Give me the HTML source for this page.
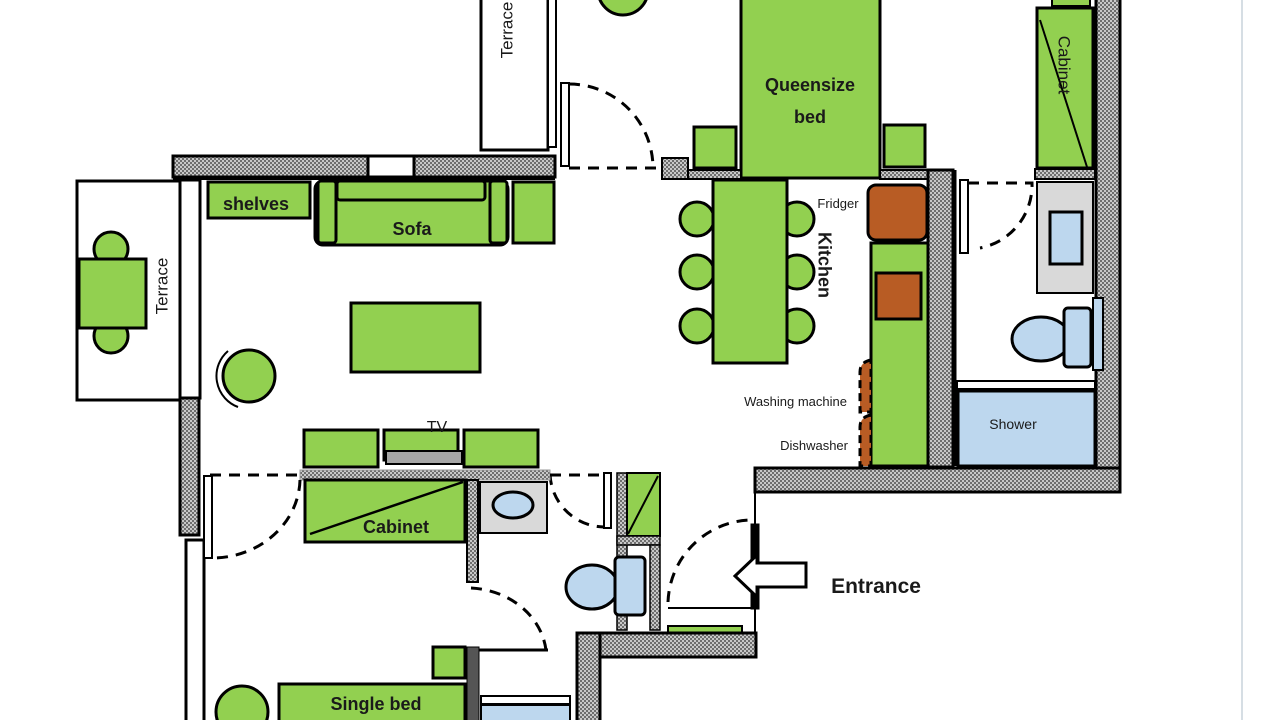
<!DOCTYPE html>
<html><head><meta charset="utf-8"><style>
html,body{margin:0;padding:0;background:#fff;}
svg{display:block}
text{font-family:"Liberation Sans",sans-serif;fill:#1a1a1a}
.b{font-weight:bold}
</style></head><body>
<svg width="1280" height="720" viewBox="0 0 1280 720" xmlns="http://www.w3.org/2000/svg">
<defs>
<pattern id="h" width="4" height="4" patternUnits="userSpaceOnUse">
<rect width="4" height="4" fill="#c8c8c8"/><rect width="2" height="2" fill="#6e6e6e"/><rect x="2" y="2" width="2" height="2" fill="#6e6e6e"/>
</pattern>
</defs>
<g stroke="#000" stroke-width="3" fill="none">
<line x1="1242" y1="0" x2="1242" y2="720" stroke="#c9d3dc" stroke-width="1.5"/>

<rect x="481" y="-5" width="67" height="155" fill="#fff"/>
<rect x="548" y="-5" width="8" height="152" fill="#fff" stroke-width="2"/>
<circle cx="623" cy="-10" r="25" fill="#92d050"/>

<rect x="173" y="156" width="195" height="21" fill="url(#h)"/>
<rect x="368" y="156" width="46" height="21" fill="#fff"/>
<rect x="414" y="156" width="141" height="21" fill="url(#h)"/>
<line x1="173" y1="178" x2="555" y2="178" stroke-width="4"/>

<rect x="180" y="180" width="20" height="218" fill="#fff"/>
<rect x="180" y="398" width="19" height="137" fill="url(#h)"/>
<rect x="186" y="540" width="18" height="185" fill="#fff"/>

<rect x="77" y="181" width="103" height="219" fill="#fff"/>
<circle cx="111" cy="249" r="17" fill="#92d050"/>
<circle cx="111" cy="336" r="17" fill="#92d050"/>
<rect x="79" y="259" width="67" height="69" fill="#92d050"/>

<rect x="208" y="182" width="102" height="36" fill="#92d050"/>
<rect x="315" y="181" width="193" height="64" rx="8" fill="#92d050"/>
<rect x="337" y="181" width="148" height="19" rx="3" fill="#92d050"/>
<rect x="318" y="181" width="18" height="62" rx="3" fill="#92d050"/>
<rect x="490" y="181" width="17" height="62" rx="3" fill="#92d050"/>
<rect x="513" y="182" width="41" height="61" fill="#92d050"/>

<rect x="561" y="83" width="8" height="83" fill="#fff" stroke-width="2"/>
<path d="M569 84 A84 84 0 0 1 653 168 M569 168 H660" stroke-dasharray="11 8"/>

<rect x="351" y="303" width="129" height="69" fill="#92d050"/>
<circle cx="249" cy="376" r="26" fill="#92d050"/>
<path d="M228 351 A33 33 0 0 0 238 407" stroke-width="2"/>

<rect x="741" y="-5" width="139" height="183" fill="#92d050"/>
<rect x="694" y="127" width="42" height="41" fill="#92d050"/>
<rect x="884" y="125" width="41" height="42" fill="#92d050"/>
<rect x="662" y="158" width="26" height="21" fill="url(#h)" stroke-width="2"/>
<rect x="688" y="170" width="53" height="9" fill="url(#h)" stroke-width="2"/>
<rect x="880" y="170" width="48" height="9" fill="url(#h)" stroke-width="2"/>
<rect x="928" y="170" width="25" height="297" fill="url(#h)"/>

<circle cx="697" cy="219" r="17" fill="#92d050"/>
<circle cx="697" cy="272" r="17" fill="#92d050"/>
<circle cx="697" cy="326" r="17" fill="#92d050"/>
<circle cx="797" cy="219" r="17" fill="#92d050"/>
<circle cx="797" cy="272" r="17" fill="#92d050"/>
<circle cx="797" cy="326" r="17" fill="#92d050"/>
<rect x="713" y="180" width="74" height="183" fill="#92d050"/>

<rect x="868" y="185" width="59" height="55" rx="8" fill="#b85c24"/>
<rect x="871" y="243" width="57" height="223" fill="#92d050"/>
<rect x="876" y="273" width="45" height="46" fill="#b85c24"/>
<path d="M871 360 Q860 362 860 372 V412 H871 Z" fill="#b85c24" stroke-dasharray="8 5"/>
<path d="M871 415 Q860 417 860 427 V466 H871 Z" fill="#b85c24" stroke-dasharray="8 5"/>

<rect x="1096" y="-5" width="24" height="473" fill="url(#h)"/>
<rect x="755" y="468" width="365" height="24" fill="url(#h)"/>
<line x1="755" y1="492" x2="755" y2="632" stroke-width="2"/>

<rect x="1052" y="-5" width="38" height="11" fill="#92d050" stroke-width="2"/>
<rect x="1037" y="8" width="56" height="160" fill="#92d050"/>
<line x1="1040" y1="20" x2="1087" y2="167" stroke-width="2"/>
<rect x="1035" y="169" width="60" height="10" fill="url(#h)" stroke-width="2"/>
<rect x="1037" y="182" width="56" height="111" fill="#d9d9d9" stroke-width="2"/>
<rect x="1050" y="212" width="32" height="52" fill="#bdd7ee"/>
<ellipse cx="1041" cy="339" rx="29" ry="22" fill="#bdd7ee"/>
<rect x="1064" y="308" width="27" height="59" rx="4" fill="#bdd7ee"/>
<rect x="1093" y="298" width="10" height="72" fill="#bdd7ee" stroke-width="2"/>
<rect x="957" y="381" width="138" height="8" fill="#fff" stroke-width="2"/>
<rect x="958" y="391" width="137" height="75" fill="#bdd7ee"/>
<line x1="955" y1="170" x2="955" y2="466" stroke-width="3"/>
<rect x="960" y="180" width="8" height="73" fill="#fff" stroke-width="2"/>
<path d="M968 183 H1032 A64 64 0 0 1 980 248" stroke-dasharray="11 8"/>

<path d="M668 602 A85 85 0 0 1 753 520" stroke-dasharray="11 8"/>
<line x1="668" y1="608" x2="753" y2="608" stroke-width="2"/>
<rect x="752" y="525" width="6" height="83" fill="#000"/>
<polygon points="735,576 757,555 757,563 806,563 806,587 757,587 757,597" fill="#fff"/>
<rect x="668" y="626" width="74" height="9" fill="#92d050" stroke-width="2"/>
<rect x="600" y="633" width="156" height="24" fill="url(#h)"/>
<rect x="577" y="633" width="23" height="95" fill="url(#h)"/>

<rect x="617" y="473" width="10" height="157" fill="url(#h)" stroke-width="1.5"/>
<rect x="627" y="473" width="33" height="63" fill="#92d050" stroke-width="2"/>
<line x1="628" y1="534" x2="658" y2="476" stroke-width="2"/>
<rect x="617" y="536" width="43" height="9" fill="url(#h)" stroke-width="1.5"/>
<rect x="650" y="545" width="10" height="85" fill="url(#h)" stroke-width="1.5"/>
<ellipse cx="592" cy="587" rx="26" ry="22" fill="#bdd7ee"/>
<rect x="615" y="557" width="30" height="58" rx="4" fill="#bdd7ee"/>
<rect x="604" y="473" width="7" height="55" fill="#fff" stroke-width="2"/>
<path d="M550 474 A55 55 0 0 0 604 527" stroke-dasharray="11 8"/>

<rect x="304" y="430" width="74" height="37" fill="#92d050"/>
<rect x="384" y="430" width="74" height="30" fill="#92d050"/>
<rect x="386" y="451" width="76" height="13" fill="#a6a6a6" stroke-width="2"/>
<rect x="464" y="430" width="74" height="37" fill="#92d050"/>
<rect x="300" y="470" width="250" height="10" fill="url(#h)" stroke="#999" stroke-width="1"/>
<path d="M210 475 H300 M550 475 H604" stroke-dasharray="11 8"/>
<rect x="305" y="480" width="160" height="62" fill="#92d050"/>
<line x1="310" y1="534" x2="463" y2="482" stroke-width="2.5"/>
<rect x="467" y="480" width="11" height="102" fill="url(#h)" stroke-width="2"/>
<rect x="480" y="482" width="67" height="51" fill="#d9d9d9" stroke-width="2"/>
<ellipse cx="513" cy="505" rx="20" ry="13" fill="#bdd7ee"/>

<rect x="204" y="476" width="8" height="82" fill="#fff" stroke-width="2"/>
<path d="M300 480 A88 80 0 0 1 212 558" stroke-dasharray="11 8"/>

<path d="M471 588 A80 70 0 0 1 546 650" stroke-dasharray="11 8"/>
<line x1="478" y1="650" x2="548" y2="650" stroke-width="3"/>

<rect x="433" y="647" width="32" height="31" fill="#92d050"/>
<rect x="467" y="647" width="12" height="80" fill="#555" stroke-width="1"/>
<rect x="279" y="684" width="186" height="45" fill="#92d050"/>
<circle cx="242" cy="712" r="26" fill="#92d050"/>
<rect x="481" y="696" width="89" height="8" fill="#fff" stroke-width="2"/>
<rect x="481" y="705" width="89" height="20" fill="#bdd7ee" stroke-width="2"/>
</g>

<g>
<text x="508" y="30" font-size="17" text-anchor="middle" transform="rotate(-90 508 30)" dominant-baseline="middle">Terrace</text>
<text x="163" y="286" font-size="17" text-anchor="middle" transform="rotate(-90 163 286)" dominant-baseline="middle">Terrace</text>
<text x="1063" y="65" font-size="17" text-anchor="middle" transform="rotate(90 1063 65)" dominant-baseline="middle">Cabinet</text>
<text x="823" y="265" font-size="18" class="b" text-anchor="middle" transform="rotate(90 823 265)" dominant-baseline="middle">Kitchen</text>
<text x="256" y="210" font-size="18" class="b" text-anchor="middle">shelves</text>
<text x="412" y="235" font-size="18" class="b" text-anchor="middle">Sofa</text>
<text x="810" y="91" font-size="18" class="b" text-anchor="middle">Queensize</text>
<text x="810" y="123" font-size="18" class="b" text-anchor="middle">bed</text>
<text x="838" y="208" font-size="13" text-anchor="middle">Fridger</text>
<text x="847" y="406" font-size="13" text-anchor="end">Washing machine</text>
<text x="848" y="450" font-size="13" text-anchor="end">Dishwasher</text>
<text x="1013" y="429" font-size="14" text-anchor="middle">Shower</text>
<text x="437" y="432" font-size="16" text-anchor="middle">TV</text>
<text x="396" y="533" font-size="18" class="b" text-anchor="middle">Cabinet</text>
<text x="876" y="593" font-size="21" class="b" text-anchor="middle">Entrance</text>
<text x="376" y="710" font-size="18" class="b" text-anchor="middle">Single bed</text>
</g>
</svg>
</body></html>
